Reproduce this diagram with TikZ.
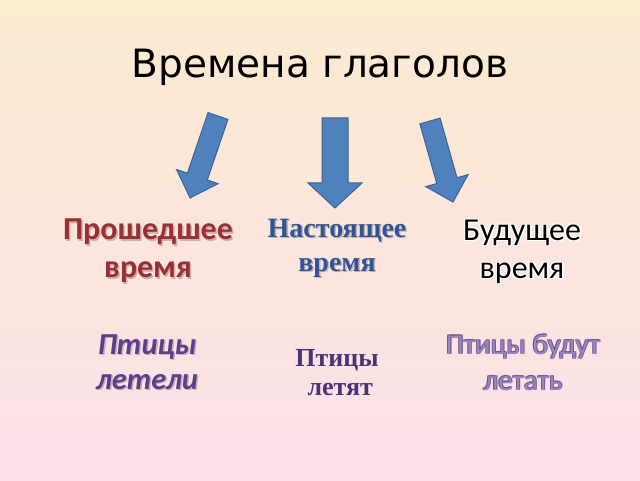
\documentclass[tikz,border=0pt]{standalone}
\usepackage{fontspec}
\setmainfont{Carlito}
\newfontfamily\titlefont{DejaVu Sans}
\newfontfamily\serifbold{Liberation Serif}
\definecolor{bgtop}{HTML}{FBEBCF}
\definecolor{bgbot}{HTML}{FDE0EA}
\definecolor{arrowfill}{HTML}{4F81BD}
\definecolor{arrowline}{HTML}{3A6396}
\definecolor{pastred}{HTML}{9B2F34}
\definecolor{presblue}{HTML}{2F5597}
\definecolor{purpleA}{HTML}{5B3E8C}
\definecolor{purpleB}{HTML}{4A3478}
\definecolor{purpleC}{HTML}{9A86C2}
\definecolor{shadowgray}{HTML}{9A8A8A}
\tikzset{
  blockarrow/.style={fill=arrowfill, draw=arrowline, line width=1pt, line join=miter},
  pasttext/.style={font=\fontsize{32}{38}\selectfont\bfseries, text=pastred, align=center},
  prestext/.style={font=\serifbold\fontsize{28}{34}\selectfont\bfseries, text=presblue, align=center},
  futtext/.style={font=\fontsize{32}{38}\selectfont, text=black, align=center},
  ex1text/.style={font=\fontsize{30.5}{35}\selectfont\bfseries\itshape, text=purpleA, align=center},
  ex2text/.style={font=\serifbold\fontsize{26}{29}\selectfont\bfseries, text=purpleB, align=center},
  ex3text/.style={font=\fontsize{29}{36}\selectfont, text=purpleC, align=center},
  shadowtext/.style={text=shadowgray, opacity=0.55},
  glowtext/.style={text=white},
  outlinetext/.style={text=purpleB, opacity=0.6},
}
\begin{document}
\begin{tikzpicture}[x=1pt,y=1pt]
\shade[top color=bgtop, bottom color=bgbot] (0,0) rectangle (640,480);
\useasboundingbox (0,0) rectangle (640,480);

% title
\node[font=\titlefont\fontsize{39}{46}\selectfont] (title) at (320,413) {Времена глаголов};

% arrows
\begin{scope}[shift={(218,364)}, rotate=-108.85]
  \draw[blockarrow] (0,-10.5) -- (64,-10.5) -- (64,-22) -- (86.6,0) -- (64,22) -- (64,10.5) -- (0,10.5) -- cycle;
\end{scope}
\begin{scope}[shift={(335,362)}, rotate=-90]
  \draw[blockarrow] (0,-13) -- (65,-13) -- (65,-27) -- (90,0) -- (65,27) -- (65,13) -- (0,13) -- cycle;
\end{scope}
\begin{scope}[shift={(430,359)}, rotate=-74.15]
  \draw[blockarrow] (0,-10.5) -- (62,-10.5) -- (62,-22) -- (84.2,0) -- (62,22) -- (62,10.5) -- (0,10.5) -- cycle;
\end{scope}

% tense names
\node[pasttext, shadowtext] (pastS) at (149.5,227.5) {Прошедшее\\время};
\node[pasttext] (past) at (148,229) {Прошедшее\\время};
\node[prestext, shadowtext] (presS) at (338.5,230.5) {Настоящее\\время};
\node[prestext] (pres) at (337,232) {Настоящее\\время};
\node[futtext, glowtext] (futG1) at (523.2,226.8) {Будущее\\время};
\node[futtext, glowtext] (futG2) at (520.8,229.2) {Будущее\\время};
\node[futtext, glowtext] (futG3) at (523.2,229.2) {Будущее\\время};
\node[futtext, glowtext] (futG4) at (520.8,226.8) {Будущее\\время};
\node[futtext] (fut) at (522,228) {Будущее\\время};

% examples
\node[ex1text, shadowtext] (ex1S) at (148.5,116.5) {Птицы\\летели};
\node[ex1text] (ex1) at (147,118) {Птицы\\летели};
\node[ex2text] (ex2) at (337,107) {Птицы\\\ летят};
\node[ex3text, outlinetext] (ex3A) at (523.8,116.8) {Птицы будут\\летать};
\node[ex3text, outlinetext] (ex3B) at (522.2,118.4) {Птицы будут\\летать};
\node[ex3text, outlinetext] (ex3C) at (523.8,118.4) {Птицы будут\\летать};
\node[ex3text, outlinetext] (ex3D) at (522.2,116.8) {Птицы будут\\летать};
\node[ex3text] (ex3) at (523,117.6) {Птицы будут\\летать};
\end{tikzpicture}
\end{document}
